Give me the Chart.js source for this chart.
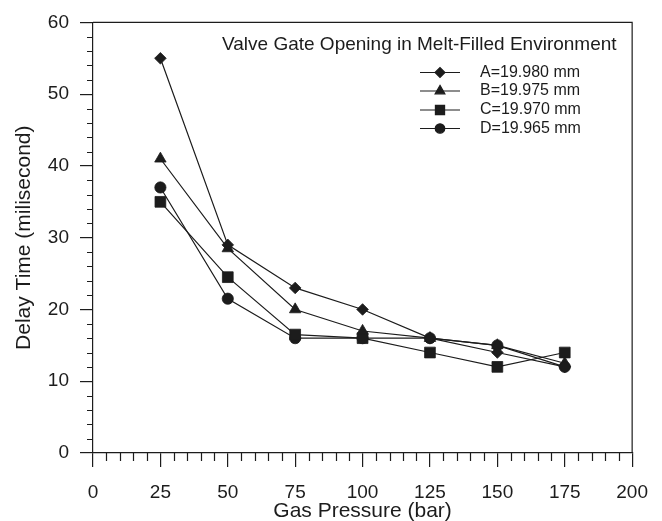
<!DOCTYPE html>
<html>
<head>
<meta charset="utf-8">
<script src="https://cdn.jsdelivr.net/npm/chart.js@4.4.0/dist/chart.umd.min.js"></script>
<style>
    html, body { margin: 0; padding: 0; background: #fff; }
    .chart-box { width: 662px; height: 521px; }
</style>
</head>
<body>
<div class="chart-box"><canvas class="delay-chart"></canvas></div>
<script>

// gas pressure (bar) and measured delay time (ms) for each gap size
const pressures = [25, 50, 75, 100, 125, 150, 175];
const delayA = [55, 29, 23, 20, 16, 14, 12];
const delayB = [41, 28.5, 20, 17, 16, 15, 12.5];
const delayC = [35, 24.5, 16.5, 16, 14, 12, 14];
const delayD = [37, 21.5, 16, 16, 16, 15, 12];
const seriesNames = ["A=19.980 mm", "B=19.975 mm", "C=19.970 mm", "D=19.965 mm"];
const plotTitle = "Valve Gate Opening in Melt-Filled Environment";

const ink = "#1c1c1c";
const font = "'Liberation Sans', Arial, sans-serif";

const shapes = [
    { style: "rectRot", r: 5.8 },
    { style: "triangle", r: 6.6 },
    { style: "rect", r: 7.6 },
    { style: "circle", r: 5.6 }
];

function series(values, i) {
    return {
        label: seriesNames[i],
        data: pressures.map((p, k) => ({ x: p, y: values[k] })),
        showLine: true,
        borderColor: ink,
        borderWidth: 1.2,
        backgroundColor: ink,
        pointStyle: shapes[i].style,
        pointRadius: shapes[i].r,
        pointHoverRadius: shapes[i].r,
        pointBorderWidth: 0.8,
        pointBorderColor: ink,
        pointBackgroundColor: ink,
        tension: 0
    }
}

// minor ticks, top/right frame and the in-plot legend
const extras = {
    id: "extras",
    afterDraw(chart) {
        const { ctx, chartArea: a, scales: { x, y } } = chart;
        ctx.save();
        ctx.strokeStyle = ink;
        ctx.lineWidth = 1.2;
        ctx.beginPath();
        for (let v = 5; v < 200; v += 5) {
            if (v % 25 == 0) continue;
            const px = Math.round(x.getPixelForValue(v)) + 0.5;
            ctx.moveTo(px, a.bottom);
            ctx.lineTo(px, a.bottom + 8);
        }
        for (let v = 2; v < 60; v += 2) {
            if (v % 10 == 0) continue;
            const py = Math.round(y.getPixelForValue(v)) + 0.5;
            ctx.moveTo(a.left - 6, py);
            ctx.lineTo(a.left, py);
        }
        ctx.moveTo(a.left, a.top);
        ctx.lineTo(a.right, a.top);
        ctx.lineTo(a.right, a.bottom);
        ctx.stroke();

        // legend
        ctx.fillStyle = ink;
        ctx.textBaseline = "middle";
        ctx.textAlign = "left";
        ctx.font = "19px " + font;
        ctx.fillText(plotTitle, 222, 45);

        ctx.font = "16px " + font;
        const rows = [72.5, 91, 110, 128.5];
        chart.data.datasets.forEach((ds, i) => {
            const ry = rows[i];
            ctx.lineWidth = 1.2;
            ctx.beginPath();
            ctx.moveTo(420, ry);
            ctx.lineTo(460, ry);
            ctx.stroke();
            Chart.helpers.drawPoint(ctx, {
                pointStyle: shapes[i].style,
                radius: shapes[i].r * 0.85,
                rotation: 0,
                borderWidth: 0.8
            }, 440, ry);
            ctx.fillText(ds.label, 480, ry);
        });
        ctx.restore();
    }
};

const ctx = document.querySelector(".delay-chart").getContext("2d");
new Chart(ctx, {
    type: "scatter",
    data: {
        datasets: [series(delayA, 0), series(delayB, 1), series(delayC, 2), series(delayD, 3)]
    },
    options: {
        responsive: true,
        maintainAspectRatio: false,
        animation: false,
        layout: { padding: { top: 20, right: 28, left: 0, bottom: 0 } },
        plugins: {
            legend: { display: false },
            tooltip: { enabled: false }
        },
        scales: {
            x: {
                type: "linear",
                min: 0,
                max: 200,
                afterFit: (s) => { s.height = 68 },
                ticks: { stepSize: 25, color: ink, padding: 14, font: { family: font, size: 19 } },
                grid: { drawOnChartArea: false, tickLength: 14, color: ink, lineWidth: 1.2 },
                border: { color: ink, width: 1.2 },
                title: { display: true, text: "Gas Pressure (bar)", color: ink, padding: { bottom: -3 }, font: { family: font, size: 21 } }
            },
            y: {
                min: 0,
                max: 60,
                afterFit: (s) => { s.width = 93 },
                ticks: { stepSize: 10, color: ink, padding: 11, font: { family: font, size: 19 } },
                grid: { drawOnChartArea: false, tickLength: 13, color: ink, lineWidth: 1.2 },
                border: { color: ink, width: 1.2 },
                title: { display: true, text: "Delay Time (milisecond)", color: ink, padding: { top: 12 }, font: { family: font, size: 21 } }
            }
        }
    },
    plugins: [extras]
});
</script>
</body>
</html>
